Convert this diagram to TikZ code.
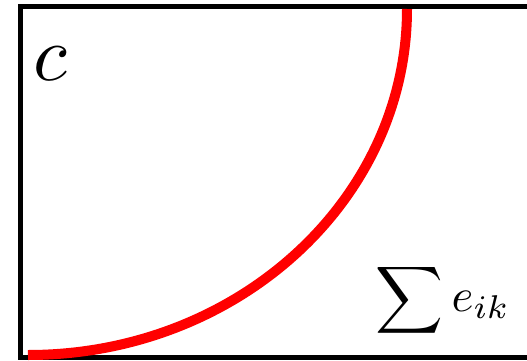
\documentclass[tikz,border=0pt]{standalone}
\usepackage{amsmath}
\usepackage{xcolor}
\usepackage{tikz}
\usetikzlibrary{positioning}

\begin{document}
\begin{tikzpicture}[x=1pt,y=1pt,
    frame/.style={draw=black,line width=5pt},
    curve/.style={draw=red,line width=10pt}]
  \useasboundingbox (0,0) rectangle (527,360);
  \clip (0,0) rectangle (527,360);
  % box, open to the right
  \draw[frame] (20,2.5) rectangle (560,353.5);
  % quarter ellipse
  \draw[curve] (28,5) arc[start angle=270,end angle=360,x radius=379pt,y radius=346pt];
  \node[inner sep=0pt,scale=7.8] (cLabel) at (50,296) {$c$};
  \node[inner sep=0pt,scale=4.7] (sumLabel) at (443,60) {$\displaystyle\sum\nolimits e_{ik}$};
\end{tikzpicture}
\end{document}
